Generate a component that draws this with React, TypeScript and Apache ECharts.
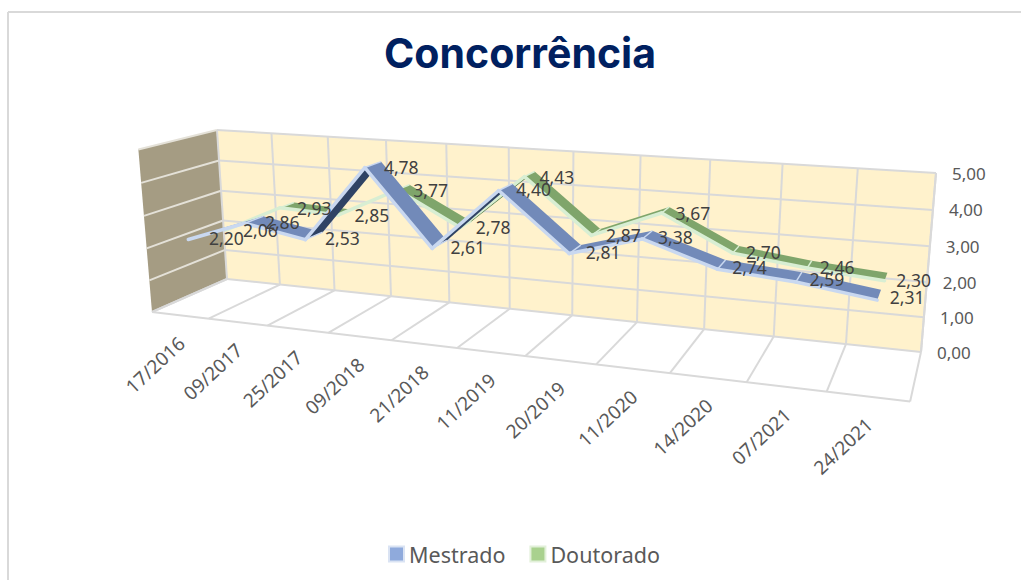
import React, { useEffect, useRef } from "react";
import * as echarts from "echarts";

const TITLE = "Concorrência";
const CATEGORIES = ["17/2016", "09/2017", "25/2017", "09/2018", "21/2018", "11/2019", "20/2019", "11/2020", "14/2020", "07/2021", "24/2021"];
const MESTRADO = [2.2, 2.86, 2.53, 4.78, 2.61, 4.4, 2.81, 3.38, 2.74, 2.59, 2.31];
const DOUTORADO = [2.06, 2.93, 2.85, 3.77, 2.78, 4.43, 2.87, 3.67, 2.7, 2.46, 2.3];
const VALUE_TICKS = [0, 1, 2, 3, 4, 5];

type P = [number, number];
// picture positions of the box's corners: they set the camera, no mark is typed
const O: P = [227, 279], X: P = [921, 352], Y: P = [217, 130], Z: P = [152, 312];
const XY: P = [936, 173], XZ: P = [910, 402];

const h = (p: P) => [p[0], p[1], 1];
function solve3(a: number[], b: number[], c: number[], d: number[]) {
  const det = (u: number[], v: number[], w: number[]) =>
    u[0] * (v[1] * w[2] - v[2] * w[1]) - v[0] * (u[1] * w[2] - u[2] * w[1]) + w[0] * (u[1] * v[2] - u[2] * v[1]);
  const D = det(a, b, c);
  return [det(d, b, c) / D, det(a, d, c) / D, det(a, b, d) / D];
}
const neg = (v: number[]) => v.map((n) => -n);
const [alpha, beta] = solve3(h(X), h(Y), neg(h(XY)), h(O));
const [, gamma] = solve3(h(X), h(Z), neg(h(XZ)), h(O));
const o = h(O);
const ax = h(X).map((n, k) => alpha * n - o[k]);
const ay = h(Y).map((n, k) => beta * n - o[k]);
const az = h(Z).map((n, k) => gamma * n - o[k]);
function project(x: number, y: number, z: number): P {
  const v = [0, 1, 2].map((k) => o[k] + x * ax[k] + y * ay[k] + z * az[k]);
  return [v[0] / v[2], v[1] / v[2]];
}

const GRID = "#d9d9d9";
const LABEL_DX = 10.5;
const LABEL_DY = 2.5;

function normalised(params: any, api: any, cat: number, val: number): [number, number] {
  const c = api.coord([cat, val]);
  const cs = params.coordSys;
  return [(c[0] - cs.x) / cs.width, 1 - (c[1] - cs.y) / cs.height];
}

function ribbon(name: string, values: number[], band: P, labelZ: number, cols: { top: string; under: string; edge: string }) {
  return {
    type: "custom",
    name,
    coordinateSystem: "cartesian2d",
    encode: { x: 0, y: 1 },
    itemStyle: { color: cols.top },
    silent: true,
    data: values.map((v, i) => [i, v, i < values.length - 1 ? values[i + 1] : v]),
    renderItem(params: any, api: any) {
      const i = api.value(0) as number;
      const [x0, y0] = normalised(params, api, i, api.value(1) as number);
      const children: any[] = [];
      if (i < values.length - 1) {
        const [x1, y1] = normalised(params, api, i + 1, api.value(2) as number);
        const a = project(x0, y0, band[1]);
        const b = project(x1, y1, band[1]);
        const c = project(x1, y1, band[0]);
        const d = project(x0, y0, band[0]);
        const area = (b[0] - a[0]) * (d[1] - a[1]) - (b[1] - a[1]) * (d[0] - a[0]);
        children.push({
          type: "polygon",
          shape: { points: [a, b, c, d] },
          style: { fill: area < 0 ? cols.top : cols.under },
        });
        children.push({ type: "line", shape: { x1: a[0], y1: a[1], x2: b[0], y2: b[1] }, style: { stroke: cols.edge, lineWidth: 3.5, lineCap: "round" } });
        if (i > 0) children.push({ type: "line", shape: { x1: a[0], y1: a[1], x2: d[0], y2: d[1] }, style: { stroke: cols.edge, lineWidth: 1.5 } });
      }
      const mid = project(x0, y0, labelZ);
      children.push({
        type: "text",
        z2: 50,
        style: {
          x: mid[0] + LABEL_DX,
          y: mid[1] + LABEL_DY,
          text: (api.value(1) as number).toFixed(2).replace(".", ","),
          fontFamily: "Noto Sans",
          fontSize: 17.5,
          fill: "#404040",
          align: "left",
          verticalAlign: "middle",
        },
      });
      return { type: "group", children };
    },
  };
}

const boxSeries = {
  type: "custom",
  name: "box",
  coordinateSystem: "cartesian2d",
  silent: true,
  z: 1,
  data: [[0, 0]],
  renderItem() {
    const poly = (pts: P[], fill: string) => ({ type: "polygon", shape: { points: pts }, style: { fill } });
    const seg = (a: P, b: P, stroke = GRID, lineWidth = 2) => ({
      type: "line",
      shape: { x1: a[0], y1: a[1], x2: b[0], y2: b[1] },
      style: { stroke, lineWidth },
    });
    const children: any[] = [
      poly([project(0, 0, 0), project(1, 0, 0), project(1, 1, 0), project(0, 1, 0)], "#fff2cc"),
      poly([project(0, 0, 0), project(0, 1, 0), project(0, 1, 1), project(0, 0, 1)], "#a59c83"),
      poly([project(0, 0, 0), project(1, 0, 0), project(1, 0, 1), project(0, 0, 1)], "#ffffff"),
    ];
    const n = CATEGORIES.length;
    VALUE_TICKS.forEach((t) => {
      const y = t / 5;
      children.push(seg(project(0, y, 0), project(1, y, 0)));
      children.push(seg(project(0, y, 0), project(0, y, 1), t === 0 ? GRID : "#e4e1d8"));
      children.push({
        type: "text",
        style: {
          x: project(1, y, 0)[0] + 16,
          y: project(1, y, 0)[1],
          text: t.toFixed(2).replace(".", ","),
          fontFamily: "Noto Sans",
          fontSize: 17,
          fill: "#595959",
          align: "left",
          verticalAlign: "middle",
        },
      });
    });
    for (let i = 0; i <= n; i++) {
      const x = i / n;
      children.push(seg(project(x, 0, 0), project(x, 1, 0)));
      children.push(seg(project(x, 0, 0), project(x, 0, 1)));
    }
    children.push(seg(project(0, 0, 1), project(1, 0, 1)));
    children.push(seg(project(1, 0, 0), project(1, 1, 0)));
    CATEGORIES.forEach((c, i) => {
      const f = project((i + 0.5) / n, 0, 1);
      children.push({
        type: "text",
        x: f[0] - 5,
        y: f[1] + 18,
        rotation: (43 * Math.PI) / 180,
        style: {
          x: 0,
          y: 0,
          text: c,
          fontFamily: "Noto Sans",
          fontSize: 19,
          fill: "#595959",
          align: "right",
          verticalAlign: "top",
        },
      });
    });
    return { type: "group", children };
  },
};

export default function App() {
  const ref = useRef<HTMLDivElement>(null);
  useEffect(() => {
    document.body.style.margin = "0";
    const chart = echarts.init(ref.current!, undefined, { renderer: "svg" });
    chart.setOption({
      animation: false,
      backgroundColor: "#ffffff",
      title: {
        text: TITLE,
        left: 515,
        top: 27,
        textAlign: "center",
        textStyle: { fontFamily: "Inter", fontWeight: "bold", fontSize: 41, color: "#002060" },
      },
      grid: { left: 200, right: 100, top: 150, bottom: 150 },
      xAxis: { type: "category", data: CATEGORIES, show: false },
      yAxis: { type: "value", min: 0, max: 5, interval: 1, show: false },
      legend: {
        data: [
          { name: "Mestrado", itemStyle: { color: "#8faadc", borderColor: "#dae3f3", borderWidth: 2 } },
          { name: "Doutorado", itemStyle: { color: "#a9d18e", borderColor: "#e2f0d9", borderWidth: 2 } },
        ],
        left: 383,
        top: 538,
        icon: "rect",
        itemWidth: 15,
        itemHeight: 15,
        itemGap: 24,
        textStyle: { fontFamily: "Noto Sans", fontSize: 21.5, color: "#595959" },
      },
      graphic: [
        { type: "line", shape: { x1: 8, y1: 12, x2: 1021, y2: 12 }, style: { stroke: "#d9d9d9", lineWidth: 2 } },
        { type: "line", shape: { x1: 8, y1: 12, x2: 8, y2: 580 }, style: { stroke: "#d9d9d9", lineWidth: 2 } },
      ],
      series: [
        boxSeries,
        { ...ribbon("Doutorado", DOUTORADO, [0.13, 0.34], 0.245, { top: "#7fa56b", under: "#3f6b34", edge: "#d8eed3" }), z: 2 },
        { ...ribbon("Mestrado", MESTRADO, [0.58, 0.83], 0.7, { top: "#728ab9", under: "#2f4364", edge: "#c9d8f0" }), z: 2 },
      ],
    });
    return () => chart.dispose();
  }, []);
  return <div ref={ref} style={{ width: 1021, height: 580 }} />;
}
